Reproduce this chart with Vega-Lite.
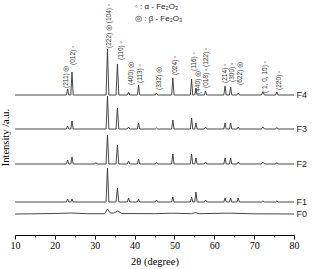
{
  "$schema": "https://vega.github.io/schema/vega-lite/v6.json",
  "autosize": {"type": "none"},
  "padding": {"left": 15, "top": 0, "right": 18, "bottom": 34},
  "width": 279,
  "height": 235,
  "config": {"view": {"stroke": null}},
  "encoding": {
    "x": {"field": "x", "type": "quantitative",
      "scale": {"domain": [10, 80], "nice": false, "zero": false},
      "axis": {"title": "2θ (degree)", "values": [10,15,20,25,30,35,40,45,50,55,60,65,70,75,80],
        "labelExpr": "datum.value % 10 === 0 ? datum.label : ''",
        "tickSize": {"condition": {"test": "datum.value % 10 === 0", "value": 4}, "value": 2},
        "grid": false, "labelFlush": false, "labelOverlap": false,
        "domainColor": "#000", "tickColor": "#000", "labelColor": "#000", "titleColor": "#000",
        "labelFont": "Liberation Serif", "labelFontSize": 10, "labelPadding": 1,
        "titleFont": "Liberation Serif", "titleFontSize": 10.5, "titleFontWeight": "normal", "titlePadding": 6}},
    "y": {"field": "y", "type": "quantitative",
      "scale": {"domain": [0, 235], "nice": false, "zero": false},
      "axis": {"title": "Intensity /a.u.", "domain": false, "ticks": false, "labels": false, "grid": false,
        "titleFont": "Liberation Serif", "titleFontSize": 10.5, "titleFontWeight": "normal", "titleColor": "#000",
        "titleX": -10, "titleY": 137, "titleBaseline": "middle", "titleAnchor": "middle"}}
  },
  "layer": [
    {
      "data": {"values": [
        {"s":"F4","x":10,"y":140},
        {"s":"F4","x":22.9,"y":140},{"s":"F4","x":23.2,"y":146},{"s":"F4","x":23.5,"y":140},
        {"s":"F4","x":24.0,"y":140},{"s":"F4","x":24.3,"y":163},{"s":"F4","x":24.6,"y":140},
        {"s":"F4","x":32.85,"y":140},{"s":"F4","x":33.2,"y":186},{"s":"F4","x":33.55,"y":140},
        {"s":"F4","x":35.35,"y":140},{"s":"F4","x":35.7,"y":171},{"s":"F4","x":36.05,"y":140},
        {"s":"F4","x":38.2,"y":140},{"s":"F4","x":38.5,"y":143},{"s":"F4","x":38.8,"y":140},
        {"s":"F4","x":40.7,"y":140},{"s":"F4","x":41.0,"y":150},{"s":"F4","x":41.3,"y":140},
        {"s":"F4","x":45.2,"y":140},{"s":"F4","x":45.5,"y":142},{"s":"F4","x":45.8,"y":140},
        {"s":"F4","x":49.3,"y":140},{"s":"F4","x":49.6,"y":157},{"s":"F4","x":49.9,"y":140},
        {"s":"F4","x":54.0,"y":140},{"s":"F4","x":54.3,"y":156},{"s":"F4","x":54.6,"y":140},
        {"s":"F4","x":55.1,"y":140},{"s":"F4","x":55.4,"y":147},{"s":"F4","x":55.7,"y":140},
        {"s":"F4","x":57.5,"y":140},{"s":"F4","x":57.8,"y":144},{"s":"F4","x":58.1,"y":140},
        {"s":"F4","x":62.4,"y":140},{"s":"F4","x":62.7,"y":149},{"s":"F4","x":63.0,"y":140},
        {"s":"F4","x":63.8,"y":140},{"s":"F4","x":64.1,"y":148},{"s":"F4","x":64.4,"y":140},
        {"s":"F4","x":65.7,"y":140},{"s":"F4","x":66.0,"y":142},{"s":"F4","x":66.3,"y":140},
        {"s":"F4","x":71.8,"y":140},{"s":"F4","x":72.2,"y":143},{"s":"F4","x":72.6,"y":140},
        {"s":"F4","x":75.4,"y":140},{"s":"F4","x":75.7,"y":143},{"s":"F4","x":76.0,"y":140},
        {"s":"F4","x":80,"y":140},

        {"s":"F3","x":10,"y":106},
        {"s":"F3","x":22.9,"y":106},{"s":"F3","x":23.2,"y":109},{"s":"F3","x":23.5,"y":106},
        {"s":"F3","x":24.0,"y":106},{"s":"F3","x":24.3,"y":114},{"s":"F3","x":24.6,"y":106},
        {"s":"F3","x":32.85,"y":106},{"s":"F3","x":33.2,"y":139},{"s":"F3","x":33.55,"y":106},
        {"s":"F3","x":35.35,"y":106},{"s":"F3","x":35.7,"y":127},{"s":"F3","x":36.05,"y":106},
        {"s":"F3","x":38.2,"y":106},{"s":"F3","x":38.5,"y":108},{"s":"F3","x":38.8,"y":106},
        {"s":"F3","x":40.7,"y":106},{"s":"F3","x":41.0,"y":112},{"s":"F3","x":41.3,"y":106},
        {"s":"F3","x":45.2,"y":106},{"s":"F3","x":45.5,"y":107},{"s":"F3","x":45.8,"y":106},
        {"s":"F3","x":49.3,"y":106},{"s":"F3","x":49.6,"y":115},{"s":"F3","x":49.9,"y":106},
        {"s":"F3","x":54.0,"y":106},{"s":"F3","x":54.3,"y":117},{"s":"F3","x":54.6,"y":106},
        {"s":"F3","x":55.1,"y":106},{"s":"F3","x":55.4,"y":112},{"s":"F3","x":55.7,"y":106},
        {"s":"F3","x":57.5,"y":106},{"s":"F3","x":57.8,"y":108},{"s":"F3","x":58.1,"y":106},
        {"s":"F3","x":62.4,"y":106},{"s":"F3","x":62.7,"y":112},{"s":"F3","x":63.0,"y":106},
        {"s":"F3","x":63.8,"y":106},{"s":"F3","x":64.1,"y":112},{"s":"F3","x":64.4,"y":106},
        {"s":"F3","x":65.7,"y":106},{"s":"F3","x":66.0,"y":108},{"s":"F3","x":66.3,"y":106},
        {"s":"F3","x":71.8,"y":106},{"s":"F3","x":72.2,"y":108},{"s":"F3","x":72.6,"y":106},
        {"s":"F3","x":75.4,"y":106},{"s":"F3","x":75.7,"y":107.5},{"s":"F3","x":76.0,"y":106},
        {"s":"F3","x":80,"y":106},

        {"s":"F2","x":10,"y":71},
        {"s":"F2","x":22.9,"y":71},{"s":"F2","x":23.2,"y":75},{"s":"F2","x":23.5,"y":71},
        {"s":"F2","x":24.0,"y":71},{"s":"F2","x":24.3,"y":78},{"s":"F2","x":24.6,"y":71},
        {"s":"F2","x":30.0,"y":71},{"s":"F2","x":30.3,"y":72.5},{"s":"F2","x":30.6,"y":71},
        {"s":"F2","x":32.85,"y":71},{"s":"F2","x":33.2,"y":100},{"s":"F2","x":33.55,"y":71},
        {"s":"F2","x":35.35,"y":71},{"s":"F2","x":35.7,"y":90},{"s":"F2","x":36.05,"y":71},
        {"s":"F2","x":38.2,"y":71},{"s":"F2","x":38.5,"y":74},{"s":"F2","x":38.8,"y":71},
        {"s":"F2","x":40.7,"y":71},{"s":"F2","x":41.0,"y":76},{"s":"F2","x":41.3,"y":71},
        {"s":"F2","x":45.2,"y":71},{"s":"F2","x":45.5,"y":72.5},{"s":"F2","x":45.8,"y":71},
        {"s":"F2","x":49.3,"y":71},{"s":"F2","x":49.6,"y":81},{"s":"F2","x":49.9,"y":71},
        {"s":"F2","x":54.0,"y":71},{"s":"F2","x":54.3,"y":81},{"s":"F2","x":54.6,"y":71},
        {"s":"F2","x":55.1,"y":71},{"s":"F2","x":55.4,"y":77},{"s":"F2","x":55.7,"y":71},
        {"s":"F2","x":57.5,"y":71},{"s":"F2","x":57.8,"y":73},{"s":"F2","x":58.1,"y":71},
        {"s":"F2","x":62.4,"y":71},{"s":"F2","x":62.7,"y":77},{"s":"F2","x":63.0,"y":71},
        {"s":"F2","x":63.8,"y":71},{"s":"F2","x":64.1,"y":77},{"s":"F2","x":64.4,"y":71},
        {"s":"F2","x":65.7,"y":71},{"s":"F2","x":66.0,"y":73},{"s":"F2","x":66.3,"y":71},
        {"s":"F2","x":71.8,"y":71},{"s":"F2","x":72.2,"y":73},{"s":"F2","x":72.6,"y":71},
        {"s":"F2","x":75.4,"y":71},{"s":"F2","x":75.7,"y":72.5},{"s":"F2","x":76.0,"y":71},
        {"s":"F2","x":80,"y":71},

        {"s":"F1","x":10,"y":33},
        {"s":"F1","x":22.9,"y":33},{"s":"F1","x":23.2,"y":36},{"s":"F1","x":23.5,"y":33},
        {"s":"F1","x":24.0,"y":33},{"s":"F1","x":24.3,"y":36},{"s":"F1","x":24.6,"y":33},
        {"s":"F1","x":32.85,"y":33},{"s":"F1","x":33.2,"y":67},{"s":"F1","x":33.55,"y":33},
        {"s":"F1","x":35.35,"y":33},{"s":"F1","x":35.7,"y":47},{"s":"F1","x":36.05,"y":33},
        {"s":"F1","x":38.2,"y":33},{"s":"F1","x":38.5,"y":37},{"s":"F1","x":38.8,"y":33},
        {"s":"F1","x":40.7,"y":33},{"s":"F1","x":41.0,"y":36},{"s":"F1","x":41.3,"y":33},
        {"s":"F1","x":45.2,"y":33},{"s":"F1","x":45.5,"y":35},{"s":"F1","x":45.8,"y":33},
        {"s":"F1","x":49.3,"y":33},{"s":"F1","x":49.6,"y":38},{"s":"F1","x":49.9,"y":33},
        {"s":"F1","x":54.0,"y":33},{"s":"F1","x":54.3,"y":38},{"s":"F1","x":54.6,"y":33},
        {"s":"F1","x":55.1,"y":33},{"s":"F1","x":55.4,"y":43},{"s":"F1","x":55.7,"y":33},
        {"s":"F1","x":57.5,"y":33},{"s":"F1","x":57.8,"y":35},{"s":"F1","x":58.1,"y":33},
        {"s":"F1","x":62.4,"y":33},{"s":"F1","x":62.7,"y":37},{"s":"F1","x":63.0,"y":33},
        {"s":"F1","x":63.8,"y":33},{"s":"F1","x":64.1,"y":37},{"s":"F1","x":64.4,"y":33},
        {"s":"F1","x":65.7,"y":33},{"s":"F1","x":66.0,"y":37},{"s":"F1","x":66.3,"y":33},
        {"s":"F1","x":71.8,"y":33},{"s":"F1","x":72.2,"y":34},{"s":"F1","x":72.6,"y":33},
        {"s":"F1","x":75.4,"y":33},{"s":"F1","x":75.7,"y":34},{"s":"F1","x":76.0,"y":33},
        {"s":"F1","x":80,"y":33},

        {"s":"F0","x":10,"y":21},
        {"s":"F0","x":20,"y":21.5},{"s":"F0","x":24.1,"y":22},{"s":"F0","x":28,"y":21.3},
        {"s":"F0","x":32.5,"y":21.3},{"s":"F0","x":33.2,"y":26},{"s":"F0","x":33.9,"y":22},
        {"s":"F0","x":34.8,"y":22},{"s":"F0","x":35.8,"y":24},{"s":"F0","x":36.8,"y":21.5},
        {"s":"F0","x":45,"y":21.3},{"s":"F0","x":49.6,"y":21.8},{"s":"F0","x":54.3,"y":21.3},
        {"s":"F0","x":55.3,"y":22.5},{"s":"F0","x":56.2,"y":21.3},{"s":"F0","x":62.7,"y":21.8},
        {"s":"F0","x":64.1,"y":21.8},{"s":"F0","x":70,"y":21.2},{"s":"F0","x":80,"y":21}
      ]},
      "mark": {"type": "line", "color": "#333", "strokeWidth": 0.9, "interpolate": "linear"},
      "encoding": {"detail": {"field": "s", "type": "nominal"}}
    },
    {
      "data": {"values": [
        {"x":22.8,"y":147,"t":"(211) ◎"},
        {"x":24.6,"y":170,"t":"(012) ◦"},
        {"x":33.7,"y":187,"t":"(222) ◎ (104) ◦"},
        {"x":36.5,"y":175,"t":"(110) ◦"},
        {"x":39.1,"y":150,"t":"(400) ◎"},
        {"x":41.3,"y":152,"t":"(113) ◦"},
        {"x":46.1,"y":145,"t":"(332) ◎"},
        {"x":50.1,"y":160,"t":"(024) ◦"},
        {"x":55.9,"y":141,"t":"(440) ◎"},
        {"x":54.8,"y":164,"t":"(116) ◦"},
        {"x":58.0,"y":147,"t":"(018) ◦ (122) ◦"},
        {"x":62.6,"y":152,"t":"(214) ◦"},
        {"x":64.4,"y":153,"t":"(300) ◦"},
        {"x":66.4,"y":150,"t":"(622) ◎"},
        {"x":72.7,"y":142,"t":"( 1, 0, 10) ◦"},
        {"x":76.2,"y":145,"t":"(220) ◦"}
      ]},
      "mark": {"type": "text", "angle": 270, "align": "left", "baseline": "middle",
        "font": "Liberation Sans", "fontSize": 6.5, "color": "#333"},
      "encoding": {"text": {"field": "t"}}
    },
    {
      "data": {"values": [
        {"x":80.6,"y":140,"t":"F4"},
        {"x":80.6,"y":106,"t":"F3"},
        {"x":80.6,"y":71,"t":"F2"},
        {"x":80.6,"y":33,"t":"F1"},
        {"x":80.6,"y":21,"t":"F0"}
      ]},
      "mark": {"type": "text", "align": "left", "baseline": "middle",
        "font": "Liberation Sans", "fontSize": 9, "color": "#222"},
      "encoding": {"text": {"field": "t"}}
    },
    {
      "data": {"values": [
        {"x":40.1,"y":228,"t":"◦ : α - Fe₂O₃"},
        {"x":40.1,"y":216,"t":"◎ : β - Fe₂O₃"}
      ]},
      "mark": {"type": "text", "align": "left", "baseline": "middle",
        "font": "Liberation Sans", "fontSize": 8, "color": "#222"},
      "encoding": {"text": {"field": "t"}}
    }
  ]
}
